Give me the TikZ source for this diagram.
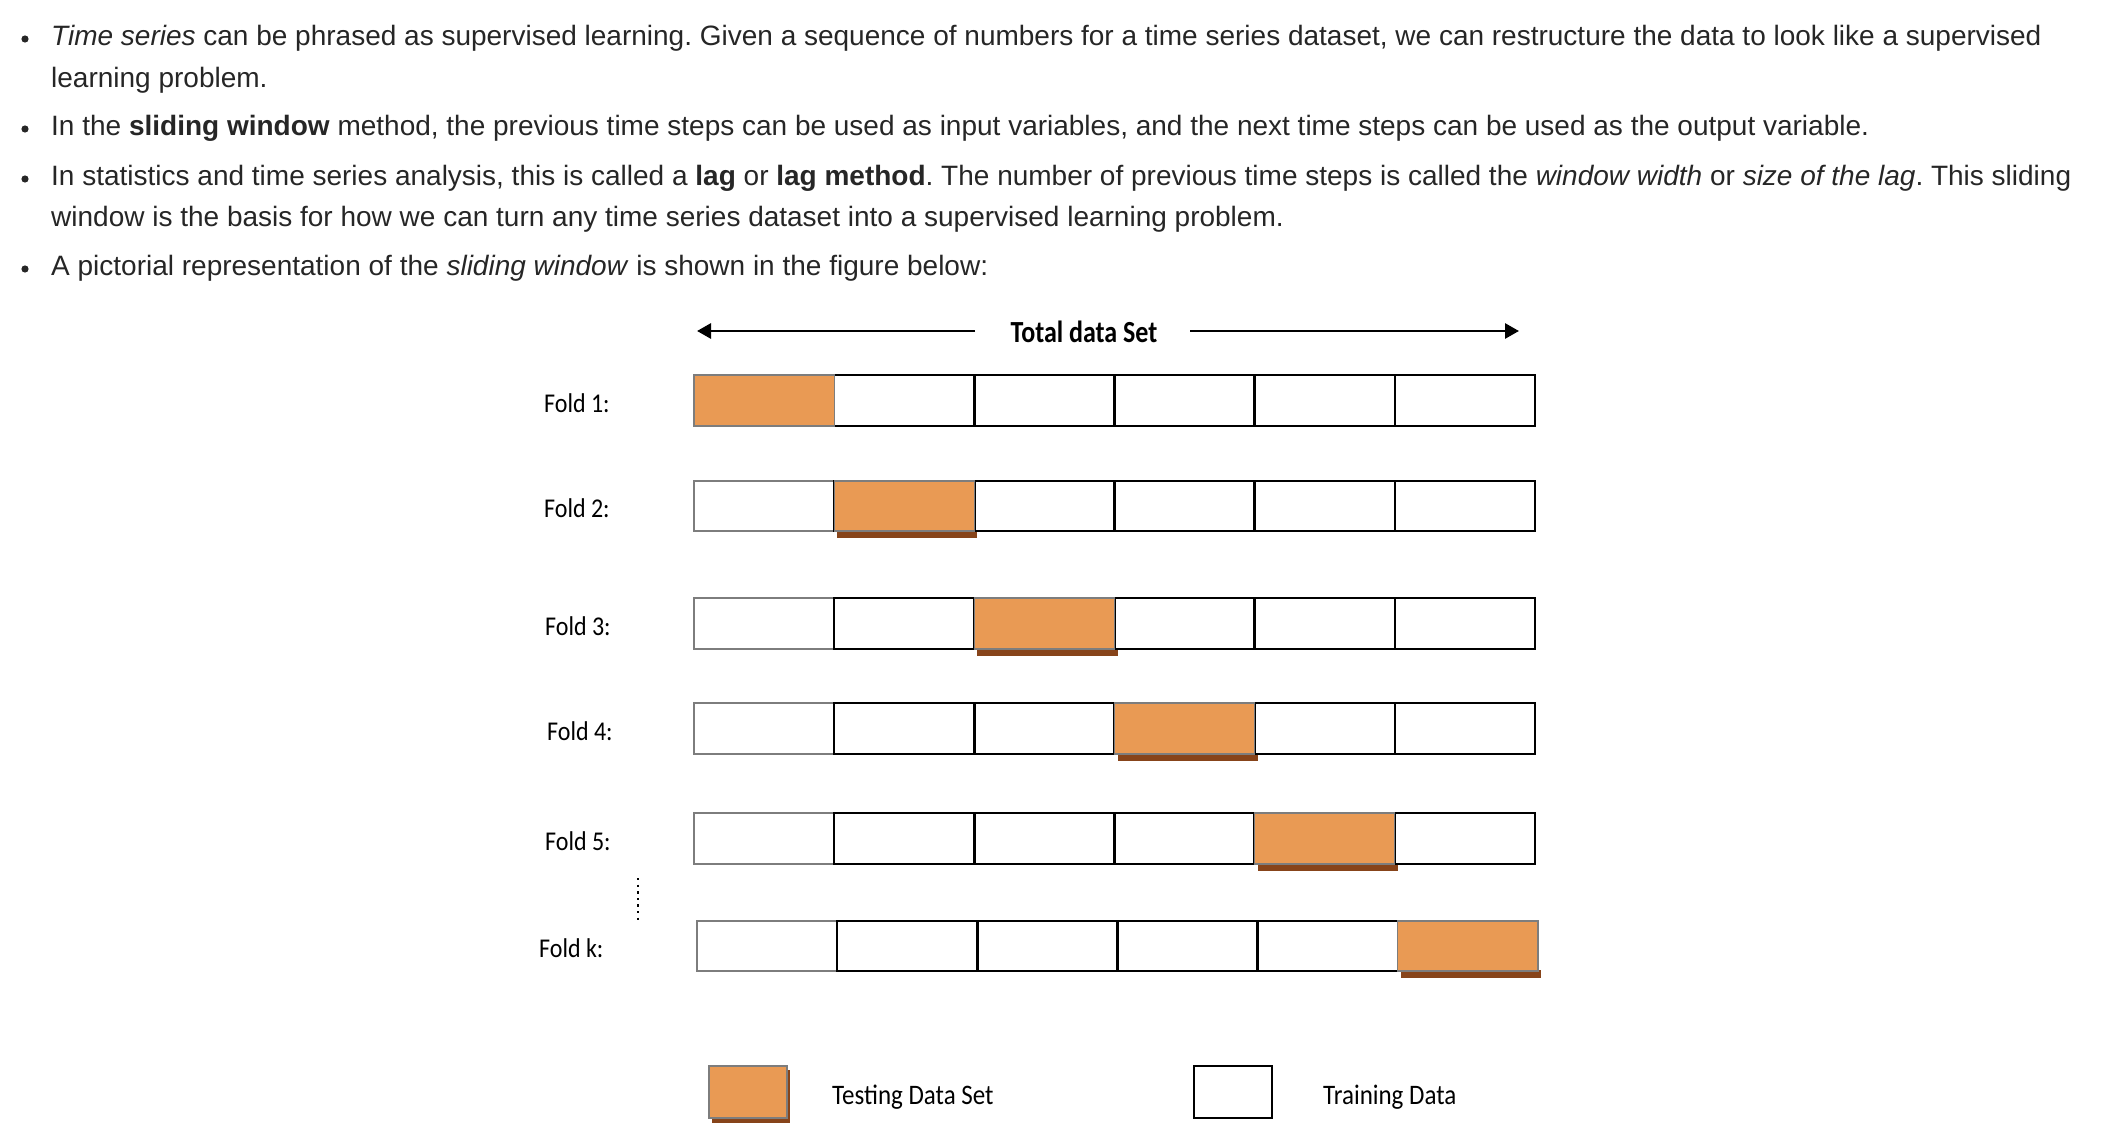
\documentclass[tikz,border=0pt]{standalone}
\usepackage{fontspec}
\setmainfont{Liberation Sans}
\newfontfamily\cali{Carlito}
\usetikzlibrary{arrows.meta}
\definecolor{txt}{RGB}{38,38,38}
\definecolor{orng}{RGB}{233,154,84}
\definecolor{brn}{RGB}{135,68,26}
\definecolor{edgegray}{RGB}{125,125,125}
\newcommand{\tallA}[1]{\scalebox{1}[1.13]{#1}}
\newcommand{\tallB}[1]{\scalebox{1}[1.18]{#1}}
\begin{document}
\frenchspacing
\begin{tikzpicture}[x=1pt,y=-1pt,
  bul/.style={anchor=base west, inner sep=0pt, text=txt, font=\fontsize{28}{42}\selectfont},
  lab/.style={anchor=base west, inner sep=0pt, font=\cali\fontsize{24}{28}\selectfont},
  leg/.style={anchor=base west, inner sep=0pt, font=\cali\fontsize{25}{30}\selectfont},
  ttl/.style={anchor=base, inner sep=0pt, font=\cali\bfseries\fontsize{26}{30}\selectfont},
  dot/.style={fill=txt},
  traincell/.style={draw=black, line width=2.5pt, fill=white},
  firstcell/.style={draw=edgegray, line width=1.5pt, fill=white},
  testcell/.style={draw=edgegray, line width=1.2pt, fill=orng},
  shadowbar/.style={fill=brn},
  arr/.style={line width=2.8pt, -{Triangle[length=14pt,width=15pt]}}]
\fill[white] (0,0) rectangle (2110,1142);
\useasboundingbox (0,0) rectangle (2110,1142);
% bullets
\fill[dot] (25,39) circle (3.6);
\fill[dot] (25,129) circle (3.6);
\fill[dot] (25,179) circle (3.6);
\fill[dot] (25,269) circle (3.6);
\node[bul] (l1) at (51,46) {\textit{Time series} can be phrased as supervised learning. Given a sequence of numbers for a time series dataset, we can restructure the data to look like a supervised};
\node[bul] (l1b) at (51,88) {learning problem.};
\node[bul] (l2) at (51,136) {In the \textbf{sliding window} method, the previous time steps can be used as input variables, and the next time steps can be used as the output variable.};
\node[bul] (l3) at (51,186) {In statistics and time series analysis, this is called a \textbf{lag} or \textbf{lag method}. The number of previous time steps is called the \textit{window width} or \textit{size of the lag}. This sliding};
\node[bul] (l3b) at (51,227) {window is the basis for how we can turn any time series dataset into a supervised learning problem.};
\node[bul] (l4) at (51,275) {A pictorial representation of the \textit{sliding window} is shown in the figure below:};
% title and arrows
\node[ttl] (title) at (1084,342) {\tallB{Total data Set}};
\coordinate (ltail) at (975,331);
\coordinate (ltip) at (697,331);
\coordinate (rtail) at (1190,331);
\coordinate (rtip) at (1519,331);
\draw[arr] (ltail) -- (ltip);
\draw[arr] (rtail) -- (rtip);
% folds
\foreach \ty/\by/\x/\k in {375/426/694/0, 481/531/694/1, 598/649/694/2, 703/754/694/3, 813/864/694/4, 921/971/697/5}{
  \ifnum\k>0
    \fill[shadowbar] (\x+\k*140.17+3,\by-1) rectangle (\x+\k*140.17+143.17,\by+6.5);
  \fi
  \draw[firstcell] (\x,\ty) rectangle (\x+140.17,\by);
  \foreach \c in {1,...,5}{
    \draw[traincell] (\x+\c*140.17,\ty) rectangle (\x+\c*140.17+140.17,\by);
  }
  \draw[testcell] (\x+\k*140.17,\ty) rectangle (\x+\k*140.17+140.17,\by);
}
\node[lab] (f1) at (544,412) {\tallA{Fold 1:}};
\node[lab] (f2) at (544,517) {\tallA{Fold 2:}};
\node[lab] (f3) at (545,635) {\tallA{Fold 3:}};
\node[lab] (f4) at (547,740) {\tallA{Fold 4:}};
\node[lab] (f5) at (545,850) {\tallA{Fold 5:}};
\node[lab] (fk) at (539,957) {\tallA{Fold k:}};
\draw[line width=2.4pt, dash pattern=on 2.4pt off 4.2pt] (638,878) -- (638,922);
% legend
\fill[shadowbar] (712,1070) rectangle (790,1123);
\draw[testcell] (709,1066) rectangle (787,1118);
\draw[traincell] (1194,1066) rectangle (1272,1118);
\node[leg] (ltest) at (832,1104) {\tallA{Testing Data Set}};
\node[leg] (ltrain) at (1323,1104) {\tallA{Training Data}};
\end{tikzpicture}
\end{document}
